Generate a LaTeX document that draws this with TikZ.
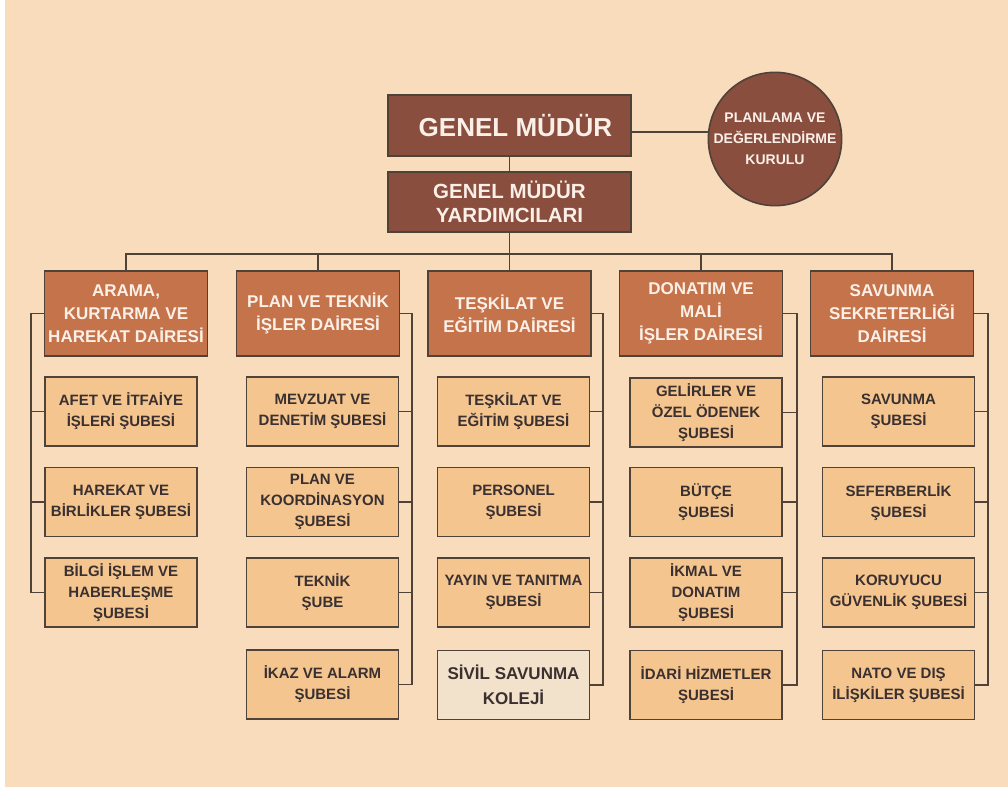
\documentclass[tikz,border=0pt]{standalone}
\usepackage{fontspec}
\setmainfont{Liberation Sans}
\usetikzlibrary{positioning}

\definecolor{zemin}{HTML}{F9DCBC}
\definecolor{koyu}{HTML}{8A4E3F}
\definecolor{kiremit}{HTML}{C5734B}
\definecolor{acik}{HTML}{F5C590}
\definecolor{krem}{HTML}{F3E2CB}
\definecolor{cizgi}{HTML}{4E4239}
\definecolor{yazi}{HTML}{3A3030}
\definecolor{beyaz}{HTML}{FBF0E8}

\begin{document}
\begin{tikzpicture}[%
    x=1pt, y=-1pt,              % one unit is one pixel of the chart
    every node/.style={align=center, inner sep=0pt},
    ]
% -------------------------------------------------
% Box styles
\tikzset{
  base/.style={draw=cizgi, line width=1.6pt, font=\bfseries},
  mudur/.style={base, rectangle, fill=koyu, text=beyaz, minimum width=243pt},
  daire/.style={base, rectangle, fill=kiremit, text=beyaz,
    minimum width=163pt, minimum height=85pt,
    font=\bfseries\fontsize{17}{23}\selectfont},
  sube/.style={base, rectangle, fill=acik, text=yazi,
    minimum width=152pt, minimum height=69pt,
    font=\bfseries\fontsize{15}{21}\selectfont},
  kolej/.style={sube, fill=krem, font=\bfseries\fontsize{17}{25}\selectfont},
  kurul/.style={base, circle, fill=koyu, text=beyaz, minimum size=124pt,
    font=\bfseries\fontsize{14}{21}\selectfont},
  % Connector line style
  conn/.style={draw=cizgi, line width=1.3pt}
}
% -------------------------------------------------
% Background
\useasboundingbox (0,0) rectangle (1008,789);
\fill[white] (0,0) rectangle (1008,789);
\fill[zemin] (5,0) rectangle (1008,787);

% -------------------------------------------------
% Top of the chart
\node [mudur, minimum height=61pt, font=\bfseries\fontsize{26}{30}\selectfont]
  (gm) at (509.5,125.5) {\hspace{12pt}GENEL MÜDÜR};
\node [mudur, minimum height=60pt, font=\bfseries\fontsize{20.5}{24}\selectfont]
  (gmy) at (509.5,202) {GENEL MÜDÜR\\YARDIMCILARI};
\node [kurul] (kurul) at (775,139) {PLANLAMA VE\\DEĞERLENDİRME\\KURULU};

% Departments
\node [daire] (d1) at (126,313.5) {ARAMA,\\KURTARMA VE\\HAREKAT DAİRESİ};
\node [daire] (d2) at (318,313.5) {PLAN VE TEKNİK\\İŞLER DAİRESİ};
\node [daire] (d3) at (509.5,313.5) {TEŞKİLAT VE\\EĞİTİM DAİRESİ};
\node [daire] (d4) at (701,313.5) {DONATIM VE\\MALİ\\İŞLER DAİRESİ};
\node [daire] (d5) at (892,313.5) {SAVUNMA\\SEKRETERLİĞİ\\DAİRESİ};

% Branches, column by column
\node [sube] (s11) at (121,411.5) {AFET VE İTFAİYE\\İŞLERİ ŞUBESİ};
\node [sube] (s12) at (121,502) {HAREKAT VE\\BİRLİKLER ŞUBESİ};
\node [sube] (s13) at (121,592.5) {BİLGİ İŞLEM VE\\HABERLEŞME\\ŞUBESİ};

\node [sube] (s21) at (322.5,411.5) {MEVZUAT VE\\DENETİM ŞUBESİ};
\node [sube] (s22) at (322.5,502) {PLAN VE\\KOORDİNASYON\\ŞUBESİ};
\node [sube] (s23) at (322.5,592.5) {TEKNİK\\ŞUBE};
\node [sube] (s24) at (322.5,684.5) {İKAZ VE ALARM\\ŞUBESİ};

\node [sube] (s31) at (513.5,411.5) {TEŞKİLAT VE\\EĞİTİM ŞUBESİ};
\node [sube] (s32) at (513.5,502) {PERSONEL\\ŞUBESİ};
\node [sube] (s33) at (513.5,592.5) {YAYIN VE TANITMA\\ŞUBESİ};
\node [kolej] (s34) at (513.5,685) {SİVİL SAVUNMA\\KOLEJİ};

\node [sube] (s41) at (706,412.5) {GELİRLER VE\\ÖZEL ÖDENEK\\ŞUBESİ};
\node [sube] (s42) at (706,502) {BÜTÇE\\ŞUBESİ};
\node [sube] (s43) at (706,592.5) {İKMAL VE\\DONATIM\\ŞUBESİ};
\node [sube] (s44) at (706,685) {İDARİ HİZMETLER\\ŞUBESİ};

\node [sube] (s51) at (898.5,411.5) {SAVUNMA\\ŞUBESİ};
\node [sube] (s52) at (898.5,502) {SEFERBERLİK\\ŞUBESİ};
\node [sube] (s53) at (898.5,592.5) {KORUYUCU\\GÜVENLİK ŞUBESİ};
\node [sube] (s54) at (898.5,685) {NATO VE DIŞ\\İLİŞKİLER ŞUBESİ};

% -------------------------------------------------
% Connectors
\coordinate (bus) at (0,254);
\coordinate (b1) at (31,0);
\coordinate (b2) at (412,0);
\coordinate (b3) at (603,0);
\coordinate (b4) at (797,0);
\coordinate (b5) at (988,0);

\draw [conn] (gm) -- (gmy);
\draw [conn] ([yshift=-6.5pt]gm.east) -- ([yshift=-6.5pt]gm.east -| kurul.west);
\draw [conn] (gmy.south) -- (gmy.south |- bus);
\draw [conn] (d1.north) -- (d1.north |- bus) -- (d5.north |- bus) -- (d5.north);
\draw [conn] (d2.north) -- (d2.north |- bus);
\draw [conn] (d3.north) -- (d3.north |- bus);
\draw [conn] (d4.north) -- (d4.north |- bus);

% left bracket of the first column
\draw [conn] (d1.west) -- (d1.west -| b1) |- (s13.west);
\draw [conn] (s11.west) -- (s11.west -| b1);
\draw [conn] (s12.west) -- (s12.west -| b1);

% right brackets of the other columns
\draw [conn] (d2.east) -- (d2.east -| b2) |- (s24.east);
\draw [conn] (s21.east) -- (s21.east -| b2);
\draw [conn] (s22.east) -- (s22.east -| b2);
\draw [conn] (s23.east) -- (s23.east -| b2);

\draw [conn] (d3.east) -- (d3.east -| b3) |- (s34.east);
\draw [conn] (s31.east) -- (s31.east -| b3);
\draw [conn] (s32.east) -- (s32.east -| b3);
\draw [conn] (s33.east) -- (s33.east -| b3);

\draw [conn] (d4.east) -- (d4.east -| b4) |- (s44.east);
\draw [conn] (s41.east) -- (s41.east -| b4);
\draw [conn] (s42.east) -- (s42.east -| b4);
\draw [conn] (s43.east) -- (s43.east -| b4);

\draw [conn] (d5.east) -- (d5.east -| b5) |- (s54.east);
\draw [conn] (s51.east) -- (s51.east -| b5);
\draw [conn] (s52.east) -- (s52.east -| b5);
\draw [conn] (s53.east) -- (s53.east -| b5);

% -------------------------------------------------
\end{tikzpicture}
\end{document}
